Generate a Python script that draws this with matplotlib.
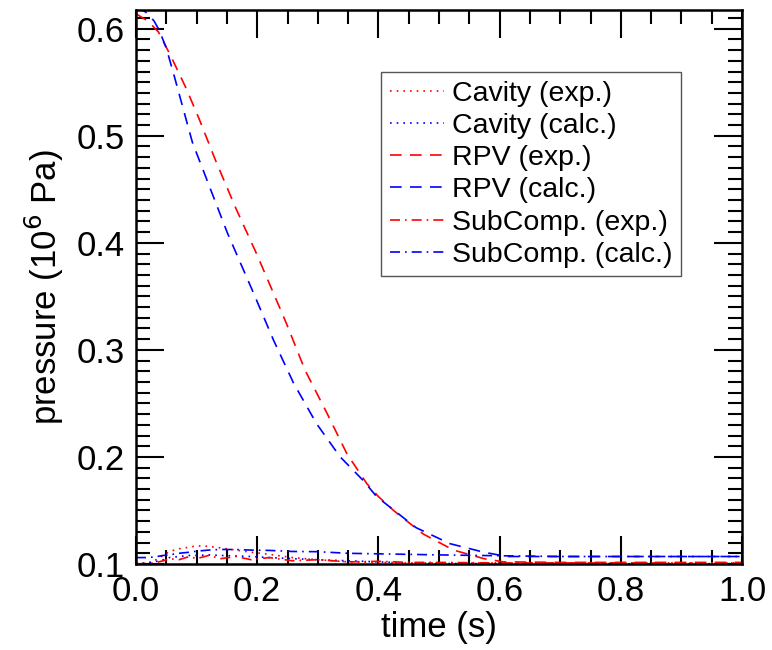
import matplotlib
matplotlib.use("Agg")
import matplotlib.pyplot as plt
from matplotlib.ticker import MultipleLocator

plt.rcParams['font.family'] = ['Liberation Sans', 'DejaVu Sans']

# RPV pressure (10^6 Pa)
t_rpv_exp = [0.0, 0.02, 0.037, 0.057, 0.083, 0.104, 0.132, 0.165, 0.198, 0.217, 0.248, 0.279, 0.315,
             0.348, 0.381, 0.40, 0.425, 0.474, 0.524, 0.574, 0.606, 0.7, 0.8, 0.9, 1.0]
rpv_exp = [0.614, 0.607, 0.597, 0.575, 0.544, 0.516, 0.476, 0.432, 0.391, 0.366, 0.325, 0.281, 0.241,
           0.203, 0.175, 0.163, 0.150, 0.128, 0.113, 0.105, 0.102, 0.1015, 0.1015, 0.1015, 0.1015]
t_rpv_calc = [0.0, 0.012, 0.02, 0.03, 0.038, 0.05, 0.063, 0.093, 0.123, 0.151, 0.184, 0.194, 0.227, 0.260,
              0.298, 0.337, 0.375, 0.397, 0.462, 0.518, 0.574, 0.612, 0.7, 0.8, 0.9, 1.0]
rpv_calc = [0.619, 0.617, 0.614, 0.607, 0.599, 0.582, 0.556, 0.494, 0.450, 0.409, 0.366, 0.353, 0.309, 0.269,
            0.231, 0.200, 0.178, 0.163, 0.134, 0.119, 0.111, 0.107, 0.107, 0.107, 0.107, 0.107]

# cavity and suppression compartment pressures
t_low = [0.0, 0.016, 0.03, 0.045, 0.055, 0.071, 0.088, 0.10, 0.12, 0.14, 0.165, 0.19, 0.22,
         0.258, 0.30, 0.35, 0.40, 0.45, 0.50, 0.60, 0.70, 0.80, 0.90, 1.0]
cav_exp = [0.101, 0.100, 0.103, 0.108, 0.1117, 0.1142, 0.1157, 0.117, 0.1165, 0.115, 0.113, 0.111, 0.109,
           0.106, 0.104, 0.102, 0.1015, 0.101, 0.101, 0.101, 0.101, 0.101, 0.101, 0.101]
cav_calc = [0.101, 0.101, 0.102, 0.104, 0.106, 0.107, 0.108, 0.108, 0.1085, 0.108, 0.1075, 0.107, 0.106,
            0.105, 0.104, 0.103, 0.102, 0.101, 0.1005, 0.1003, 0.1003, 0.1003, 0.1003, 0.1003]
sub_exp = [0.100, 0.1005, 0.101, 0.103, 0.105, 0.104, 0.107, 0.105, 0.108, 0.105, 0.107, 0.104, 0.106,
           0.103, 0.104, 0.102, 0.1025, 0.1015, 0.1015, 0.101, 0.101, 0.101, 0.101, 0.101]
sub_calc = [0.106, 0.106, 0.1065, 0.108, 0.1086, 0.110, 0.111, 0.112, 0.113, 0.1136, 0.1135, 0.1130, 0.1127,
            0.1117, 0.1115, 0.110, 0.1095, 0.109, 0.1085, 0.1077, 0.107, 0.107, 0.107, 0.107]

fig = plt.figure(figsize=(7.72, 6.5), dpi=100)
ax = fig.add_axes([136 / 772, 86 / 650, 606 / 772, 554 / 650])

lw = 1.2
dot = (0, (1, 3))
dash = (0, (7, 5))
dashdot = (0, (6, 3, 1, 3))
ax.plot(t_low, cav_exp, color='red', ls=dot, lw=lw, label='Cavity (exp.)')
ax.plot(t_low, cav_calc, color='blue', ls=dot, lw=lw, label='Cavity (calc.)')
ax.plot(t_rpv_exp, rpv_exp, color='red', ls=dash, lw=lw, label='RPV (exp.)')
ax.plot(t_rpv_calc, rpv_calc, color='blue', ls=dash, lw=lw, label='RPV (calc.)')
ax.plot(t_low, sub_exp, color='red', ls=dashdot, lw=lw, label='SubComp. (exp.)')
ax.plot(t_low, sub_calc, color='blue', ls=dashdot, lw=lw, label='SubComp. (calc.)')

ax.set_xlim(0.0, 1.0)
ax.set_ylim(0.1, 0.6175)
ax.xaxis.set_major_locator(MultipleLocator(0.2))
ax.xaxis.set_minor_locator(MultipleLocator(0.05))
ax.yaxis.set_major_locator(MultipleLocator(0.1))
ax.yaxis.set_minor_locator(MultipleLocator(0.01))
ax.xaxis.set_major_formatter(plt.FormatStrFormatter('%.1f'))
ax.yaxis.set_major_formatter(plt.FormatStrFormatter('%.1f'))
ax.tick_params(which='both', direction='in', top=True, right=True, labelsize=25, width=1.5)
ax.tick_params(which='major', length=20, pad=8)
ax.tick_params(which='minor', length=10)
for s in ax.spines.values():
    s.set_linewidth(1.8)

ax.set_xlabel('time (s)', fontsize=25, labelpad=2)
ax.set_ylabel('pressure (10$^6$ Pa)', fontsize=25, labelpad=8)

leg = ax.legend(loc='upper left', bbox_to_anchor=(245 / 606, 1 - 62 / 554), fontsize=20.5,
                handlelength=1.9, handletextpad=0.3, labelspacing=0.22, borderpad=0.3,
                borderaxespad=0, fancybox=False, framealpha=1)
leg.get_frame().set_edgecolor('#555555')
leg.get_frame().set_linewidth(1.0)

fig.savefig('out.png', dpi=100)
